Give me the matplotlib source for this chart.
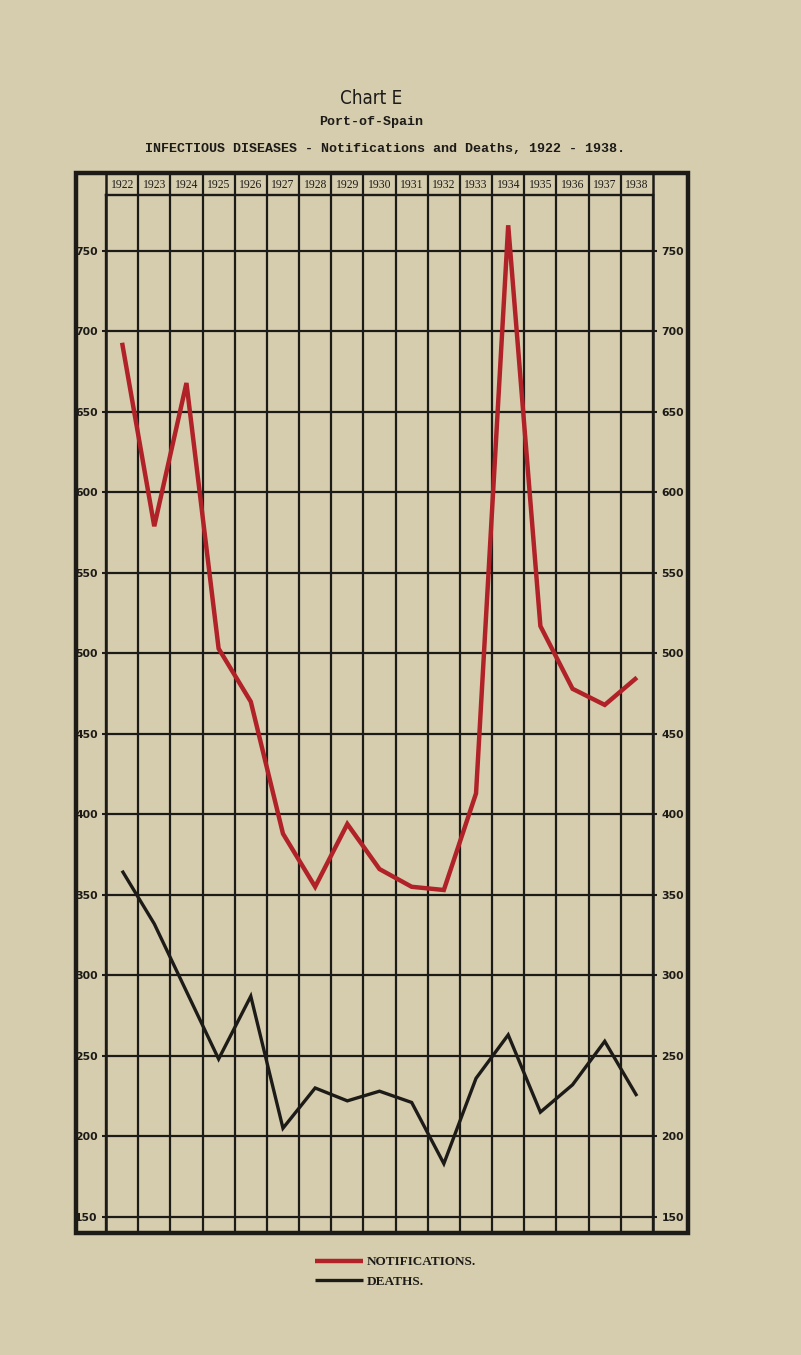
import matplotlib
matplotlib.use("Agg")
import matplotlib.pyplot as plt
from matplotlib.patches import Rectangle
from matplotlib.transforms import blended_transform_factory

# ---- data ----
years = [1922, 1923, 1924, 1925, 1926, 1927, 1928, 1929, 1930,
         1931, 1932, 1933, 1934, 1935, 1936, 1937, 1938]
notifications = [693, 579, 668, 503, 470, 388, 355, 394, 366,
                 355, 353, 413, 766, 517, 478, 468, 485]
deaths = [365, 332, 290, 248, 287, 205, 230, 222, 228,
          221, 183, 236, 263, 215, 232, 259, 225]
y_ticks = [150, 200, 250, 300, 350, 400, 450, 500, 550, 600, 650, 700, 750]
year_labels = [str(y) for y in years]

# ---- styling ----
PAPER = "#d6cdae"
INK = "#1d1b18"
RED = "#b02227"
W, H = 801, 1355

fig = plt.figure(figsize=(W / 100, H / 100), dpi=100, facecolor=PAPER)

def fx(px):
    return px / W

def fy(py):
    return 1 - py / H

ax_left, ax_right, ax_top, ax_bottom = 106, 653, 195, 1233
ax = fig.add_axes([fx(ax_left), fy(ax_bottom), (ax_right - ax_left) / W,
                   (ax_bottom - ax_top) / H])
ax.set_facecolor(PAPER)

ax.set_xlim(years[0] - 0.5, years[-1] + 0.5)
ax.set_ylim(139.9, 784.8)

# grid
ax.set_yticks(y_ticks)
ax.set_yticklabels([str(v) for v in y_ticks])
ax.set_xticks([])
ax.set_xticks([y + 0.5 for y in years[:-1]], minor=True)
ax.grid(axis="y", which="major", color=INK, lw=1.6)
ax.grid(axis="x", which="minor", color=INK, lw=1.6)
ax.tick_params(axis="x", which="both", length=0, labelbottom=False)
ax.tick_params(axis="y", which="major", direction="out", length=3, width=1.5,
               color=INK, pad=3, labelsize=7.8, labelcolor=INK,
               left=True, right=True, labelleft=True, labelright=True)
for lab in ax.get_yticklabels():
    lab.set_fontweight("bold")
    lab.set_family("DejaVu Sans")
for side in ["left", "right", "top"]:
    ax.spines[side].set_color(INK)
    ax.spines[side].set_linewidth(1.7)
ax.spines["bottom"].set_visible(False)

# data lines
ax.plot(years, notifications, color=RED, lw=3.2, solid_joinstyle="miter",
        solid_capstyle="butt", label="NOTIFICATIONS.", zorder=5)
ax.plot(years, deaths, color=INK, lw=2.4, solid_joinstyle="miter",
        solid_capstyle="butt", label="DEATHS.", zorder=5)

# header row with years
trans = blended_transform_factory(ax.transData, ax.transAxes)
h = ax_bottom - ax_top
hdr_top = 1 + (ax_top - 174) / h
for b in [y + 0.5 for y in years[:-1]]:
    ax.plot([b, b], [1, hdr_top], transform=trans, color=INK, lw=1.6,
            clip_on=False)
for b in [years[0] - 0.5, years[-1] + 0.5]:
    ax.plot([b, b], [0, hdr_top], transform=trans, color=INK, lw=1.8,
            clip_on=False)
for y, lab in zip(years, year_labels):
    ax.text(y, 1 + (ax_top - 184.5) / h, lab, transform=trans, ha="center",
            va="center", fontsize=8.4, family="Liberation Serif", color=INK)

# outer frame
fig.add_artist(Rectangle((fx(76), fy(1233)), fx(688) - fx(76), fy(173) - fy(1233),
                         transform=fig.transFigure, fill=False, ec=INK, lw=3.2))

# titles
fig.text(fx(371), fy(99), "Chart E", ha="center", va="center", fontsize=13.5,
         family="DejaVu Sans", fontstretch="condensed", color=INK)
fig.text(fx(371), fy(122), "Port-of-Spain", ha="center", va="center",
         fontsize=9.6, family="Liberation Mono", fontweight="bold", color=INK)
fig.text(fx(385), fy(149),
         "INFECTIOUS DISEASES - Notifications and Deaths, 1922 - 1938.",
         ha="center", va="center", fontsize=9.6, family="Liberation Mono",
         fontweight="bold", color=INK)

# legend
leg = fig.legend(loc="upper left", bbox_to_anchor=(fx(315), fy(1256)),
                 bbox_transform=fig.transFigure, frameon=False,
                 handlelength=3.6, handletextpad=0.35, labelspacing=0.55,
                 borderpad=0, borderaxespad=0,
                 prop={"family": "Liberation Serif", "weight": "bold", "size": 9.5})
for t in leg.get_texts():
    t.set_color(INK)

fig.savefig("out.png", dpi=100, facecolor=PAPER)
